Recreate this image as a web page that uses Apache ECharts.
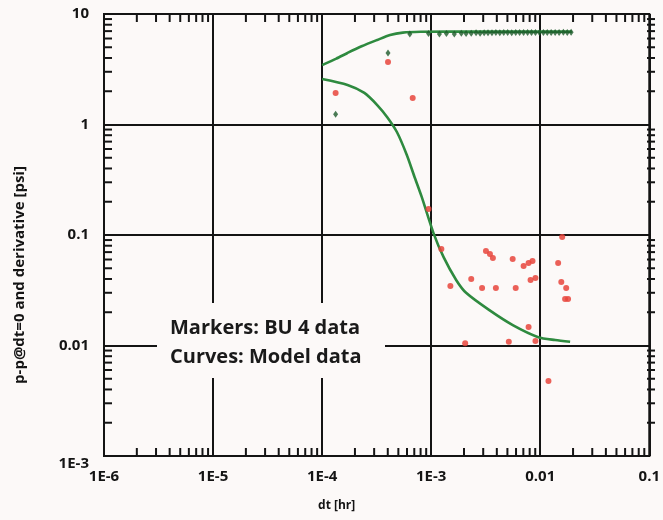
<!DOCTYPE html>
<html><head><meta charset="utf-8">
<script src="https://cdn.jsdelivr.net/npm/echarts@6/dist/echarts.min.js"></script>
<style>html,body{margin:0;padding:0;background:#fcf9f8}#c{width:663px;height:520px}</style>
</head><body><div id="c"></div>
<script>
// ---- data ----
const xTickLabels = {'-6':'1E-6','-5':'1E-5','-4':'1E-4','-3':'1E-3','-2':'0.01','-1':'0.1'};
const yTickLabels = {'1':'10','0':'1','-1':'0.1','-2':'0.01','-3':'1E-3'};
const xTitle = 'dt [hr]';
const yTitle = 'p-p@dt=0 and derivative [psi]';
const noteLines = ['Markers: BU 4 data', 'Curves: Model data'];

// model curves
const modelPressure = [
  [1.0e-4,3.45],[1.35e-4,3.95],[1.71e-4,4.44],[2.3e-4,5.1],[3.2e-4,5.82],[4.2e-4,6.45],
  [5.5e-4,6.78],[8.0e-4,6.9],[1.5e-3,6.92],[3e-3,6.92],[6e-3,6.92],[1e-2,6.92],[1.95e-2,6.92]
];
const modelDerivative = [
  [1.0e-4,2.58],[1.71e-4,2.28],[2.44e-4,1.93],[3.2e-4,1.50],[3.94e-4,1.17],[4.85e-4,0.855],
  [5.98e-4,0.53],[7.0e-4,0.34],[8.19e-4,0.221],[1.05e-3,0.104],[1.30e-3,0.063],[1.70e-3,0.039],
  [2.09e-3,0.030],[3.39e-3,0.021],[5.6e-3,0.0153],[9.6e-3,0.0119],[1.37e-2,0.0112],[1.88e-2,0.0108]
];
// measured markers
const dataPressure = [
  [1.33e-4,1.24],[4.02e-4,4.44],[6.37e-4,6.6],[9.46e-4,6.65],[1.19e-3,6.6],[1.38e-3,6.65],
  [1.63e-3,6.6],[1.89e-3,6.7],[2.09e-3,6.65],[2.33e-3,6.7],[2.58e-3,6.75],[2.81e-3,6.7],
  [3.06e-3,6.75],[3.32e-3,6.75],[3.61e-3,6.75],[3.92e-3,6.8],[4.26e-3,6.75],[4.63e-3,6.8],
  [5.03e-3,6.8],[5.48e-3,6.75],[5.96e-3,6.8],[6.47e-3,6.8],[7.04e-3,6.8],[7.66e-3,6.8],
  [8.32e-3,6.8],[9.04e-3,6.8],[9.84e-3,6.8],[1.07e-2,6.8],[1.16e-2,6.8],[1.26e-2,6.8],
  [1.37e-2,6.8],[1.49e-2,6.8],[1.63e-2,6.85],[1.77e-2,6.8],[1.92e-2,6.85]
];
const dataDerivative = [
  [1.33e-4,1.93],[4.02e-4,3.68],[6.77e-4,1.74],[9.46e-4,0.172],[1.24e-3,0.0746],
  [3.18e-3,0.0716],[3.46e-3,0.0673],[3.68e-3,0.0619],[5.59e-3,0.0607],[7.04e-3,0.0524],
  [7.82e-3,0.0558],[8.50e-3,0.0582],[1.46e-2,0.0558],[1.59e-2,0.0959],[2.33e-3,0.040],
  [1.50e-3,0.0345],[2.93e-3,0.0331],[3.92e-3,0.0331],[5.96e-3,0.0331],[8.15e-3,0.0392],
  [9.04e-3,0.0408],[1.56e-2,0.0376],[1.73e-2,0.0331],[1.69e-2,0.0264],[1.80e-2,0.0264],
  [7.82e-3,0.0147],[2.05e-3,0.0105],[5.15e-3,0.0108],[9.04e-3,0.0110],[1.19e-2,0.00477]
];
// minor tick multipliers per decade
const minorMult = [2,3,4,5,6,7,8,9];
const xDecades = [-6,-5,-4,-3,-2];
const yDecades = [-3,-2,-1,0];

// ---- chart ----
(function(){
const BG = '#fcf9f8';
const INK = '#141414';
const FONT = '"Open Sans", Lato, sans-serif';
const chart = echarts.init(document.getElementById('c'), null, {renderer:'canvas'});
const lineStyleGrid = {color: INK, width: 2};
const X_MIN = 1e-6, X_MAX = 0.1, Y_MIN = 1e-3, Y_MAX = 10;
const G = {left:104, right:8, top:14, bottom:64};

const option = {
  backgroundColor: BG,
  animation: false,
  grid: {left:G.left, right:G.right, top:G.top, bottom:G.bottom, show:true, borderColor:INK, borderWidth:2, backgroundColor:'transparent'},
  xAxis: {
    type:'log', logBase:10, min:X_MIN, max:X_MAX,
    name: xTitle, nameLocation:'middle', nameGap:44,
    nameTextStyle:{fontFamily:FONT, fontWeight:'bold', fontSize:12, color:INK, padding:[0,0,0,-80]},
    axisLine:{show:true, lineStyle:lineStyleGrid},
    axisTick:{show:false},
    splitLine:{show:true, lineStyle:lineStyleGrid},
    axisLabel:{fontFamily:FONT, fontWeight:'bold', fontSize:15, color:INK, margin:13, showMaxLabel:true, showMinLabel:true,
      formatter:v=>xTickLabels[String(Math.round(Math.log10(v)))] || ''}
  },
  yAxis: {
    type:'log', logBase:10, min:Y_MIN, max:Y_MAX,
    axisLine:{show:true, lineStyle:lineStyleGrid},
    axisTick:{show:false},
    splitLine:{show:true, lineStyle:lineStyleGrid},
    axisLabel:{fontFamily:FONT, fontWeight:'bold', fontSize:15, color:INK, margin:15, showMaxLabel:true, showMinLabel:true,
      formatter:v=>{const k=String(Math.round(Math.log10(v))); const t=yTickLabels[k]||''; return k==='-3'?'{low|'+t+'}':t;},
      rich:{low:{fontFamily:FONT, fontWeight:'bold', fontSize:15, color:INK, padding:[16,0,0,0]}}}
  },
  series: [
    {name:'model p', type:'line', data:modelPressure, smooth:0.25, showSymbol:false, symbol:'none',
     lineStyle:{color:'#2e8a3f', width:2.6}, z:3},
    {name:'model dp', type:'line', data:modelDerivative, smooth:0.25, showSymbol:false, symbol:'none',
     lineStyle:{color:'#2e8a3f', width:2.6}, z:3},
    {name:'BU4 dp', type:'scatter', data:dataDerivative, symbol:'circle', symbolSize:6,
     itemStyle:{color:'#e8453c', opacity:0.85}, z:4},
    {name:'BU4 p', type:'scatter', data:dataPressure, symbol:'diamond', symbolSize:[5,7],
     itemStyle:{color:'#1d5a2a'}, z:5}
  ]
};
chart.setOption(option);

// plot rectangle and axis mapping (library first, layout fallback)
const W = chart.getWidth(), H = chart.getHeight();
const gl = G.left, gt = G.top, gr = W - G.right, gb = H - G.bottom;
const lx0 = Math.log10(X_MIN), lx1 = Math.log10(X_MAX), ly0 = Math.log10(Y_MIN), ly1 = Math.log10(Y_MAX);
function xPix(v){
  let p; try { p = chart.convertToPixel({xAxisIndex:0}, v); } catch(e) { p = NaN; }
  if (Array.isArray(p)) p = p[0];
  if (typeof p !== 'number' || !isFinite(p)) p = gl + (Math.log10(v)-lx0)/(lx1-lx0)*(gr-gl);
  return p;
}
function yPix(v){
  let p; try { p = chart.convertToPixel({yAxisIndex:0}, v); } catch(e) { p = NaN; }
  if (Array.isArray(p)) p = p[1];
  if (typeof p !== 'number' || !isFinite(p)) p = gb - (Math.log10(v)-ly0)/(ly1-ly0)*(gb-gt);
  return p;
}
const TL = 8, TW = 2;
const els = [];
const tr = (x,y,w,h)=>({type:'rect', shape:{x:x,y:y,width:w,height:h}, style:{fill:INK}, z:50, silent:true});
xDecades.forEach(d=>minorMult.forEach(m=>{
  const x = xPix(m*Math.pow(10,d));
  els.push(tr(x-TW/2, gb-TL, TW, TL));
  els.push(tr(x-TW/2, gt, TW, TL));
}));
yDecades.forEach(d=>minorMult.forEach(m=>{
  const y = yPix(m*Math.pow(10,d));
  els.push(tr(gl, y-TW/2, TL, TW));
  els.push(tr(gr-TL, y-TW/2, TL, TW));
}));
els.push({type:'text', x:20, y:275, rotation:Math.PI/2, style:{text:yTitle, font:'bold 15px '+FONT, fill:INK, align:'center', verticalAlign:'middle'}, z:61, silent:true});
els.push({type:'rect', shape:{x:157,y:303,width:228,height:75}, style:{fill:BG}, z:60, silent:true});
els.push({type:'text', x:170, y:328, style:{text:noteLines[0], font:'bold 20px '+FONT, fill:'#1a1a1a', verticalAlign:'middle'}, z:61, silent:true});
els.push({type:'text', x:170, y:357, style:{text:noteLines[1], font:'bold 20px '+FONT, fill:'#1a1a1a', verticalAlign:'middle'}, z:61, silent:true});
chart.setOption({graphic:{elements:els}});
})();
</script></body></html>
